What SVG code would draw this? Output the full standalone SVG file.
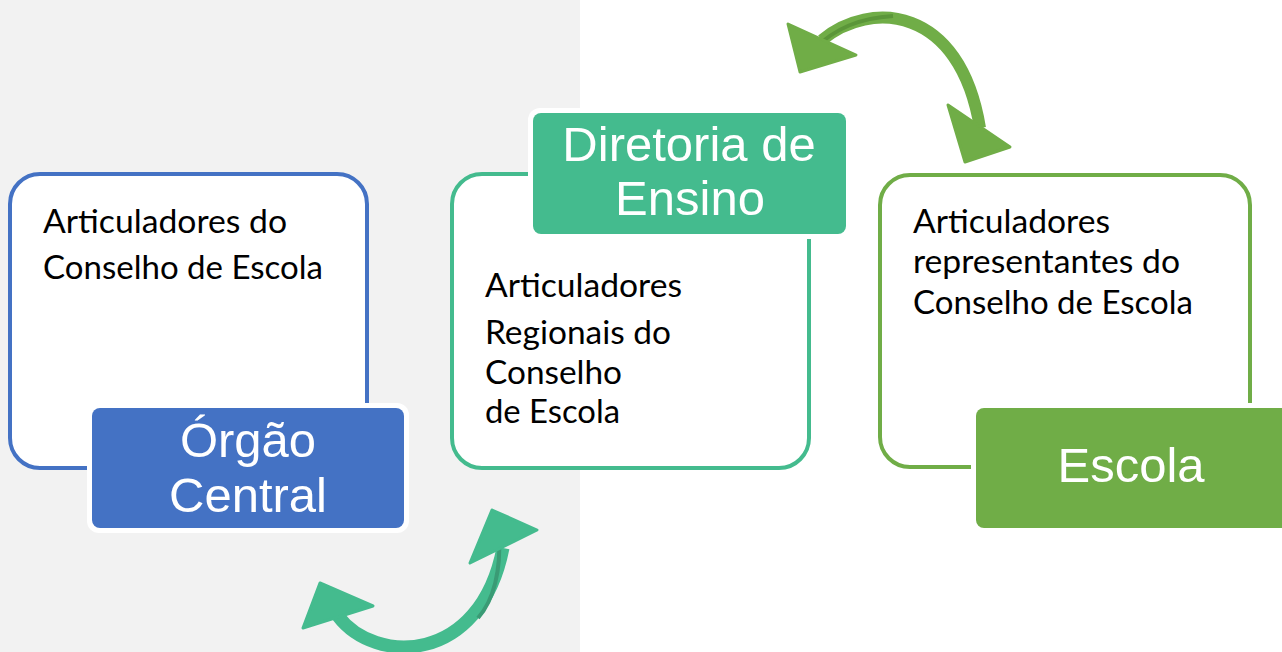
<svg xmlns="http://www.w3.org/2000/svg" width="1282" height="652" viewBox="0 0 1282 652">
<style>
.body{font-family:Lato,"Open Sans","Noto Sans",sans-serif;font-size:32px;fill:#000}
.lbl{font-family:"Liberation Sans",Arial,sans-serif;font-size:49px;fill:#fff;text-anchor:middle}
.box{fill:#fff;stroke-width:4}
.halo{fill:#fff}
</style>
<rect x="0" y="0" width="1282" height="652" fill="#fff"/>
<rect x="0" y="0" width="580" height="652" fill="#f2f2f2"/>

<g id="orgao-central">
  <rect class="box" x="10" y="174" width="357" height="294" rx="30" stroke="#4472c4"/>
  <text class="body" x="43" y="233" textLength="244" lengthAdjust="spacingAndGlyphs">Articuladores do</text>
  <text class="body" x="43" y="279" textLength="280" lengthAdjust="spacingAndGlyphs">Conselho de Escola</text>
  <rect class="halo" x="87" y="403" width="322" height="130" rx="12"/>
  <rect x="92" y="408" width="312" height="120" rx="8" fill="#4472c4"/>
  <text class="lbl" x="248" y="457">Órgão</text>
  <text class="lbl" x="248" y="512">Central</text>
</g>

<g id="diretoria-de-ensino">
  <rect class="box" x="452" y="174" width="357" height="294" rx="30" stroke="#44bb8e" stroke-width="4.5"/>
  <text class="body" x="485" y="297" textLength="197" lengthAdjust="spacingAndGlyphs">Articuladores</text>
  <text class="body" x="485" y="344" textLength="186" lengthAdjust="spacingAndGlyphs">Regionais do</text>
  <text class="body" x="485" y="384" textLength="137" lengthAdjust="spacingAndGlyphs">Conselho</text>
  <text class="body" x="485" y="423" textLength="135" lengthAdjust="spacingAndGlyphs">de Escola</text>
  <rect class="halo" x="528" y="108" width="323" height="131" rx="12"/>
  <rect x="533" y="113" width="313" height="121" rx="8" fill="#44bb8e"/>
  <text class="lbl" x="689" y="161">Diretoria de</text>
  <text class="lbl" x="690" y="215">Ensino</text>
</g>

<g id="escola">
  <rect class="box" x="880" y="175" width="370" height="292" rx="30" stroke="#70ad47"/>
  <text class="body" x="913" y="233" textLength="197" lengthAdjust="spacingAndGlyphs">Articuladores</text>
  <text class="body" x="913" y="273" textLength="267" lengthAdjust="spacingAndGlyphs">representantes do</text>
  <text class="body" x="913" y="314" textLength="280" lengthAdjust="spacingAndGlyphs">Conselho de Escola</text>
  <rect class="halo" x="971" y="403" width="320" height="130" rx="12"/>
  <rect x="976" y="408" width="315" height="120" rx="8" fill="#70ad47"/>
  <text class="lbl" x="1131" y="482">Escola</text>
</g>

<g id="connectors">
  <g id="arrow-bottom">
    <path d="M 338 616 C 375 665, 480 665, 503 548" fill="none" stroke="#44bb8e" stroke-width="13"/>
    <path d="M 499 535 C 501 570, 494 600, 478 618" fill="none" stroke="#3a9b75" stroke-width="4"/>
    <polygon points="320,583 373,606 303,628" fill="#44bb8e" stroke="#44bb8e" stroke-width="3" stroke-linejoin="round"/>
    <polygon points="492,510 537,530 470,563" fill="#44bb8e" stroke="#44bb8e" stroke-width="3" stroke-linejoin="round"/>
  </g>
  <g id="arrow-top">
    <path d="M 822 40 C 870 0, 960 5, 980 128" fill="none" stroke="#70ad47" stroke-width="12"/>
    <path d="M 813 50 C 835 28, 860 18, 893 16" fill="none" stroke="#5b9639" stroke-width="4"/>
    <polygon points="800,72 788,24 856,55" fill="#70ad47" stroke="#70ad47" stroke-width="3" stroke-linejoin="round"/>
    <polygon points="965,162 948,105 1010,147" fill="#70ad47" stroke="#70ad47" stroke-width="3" stroke-linejoin="round"/>
  </g>
</g>
</svg>
